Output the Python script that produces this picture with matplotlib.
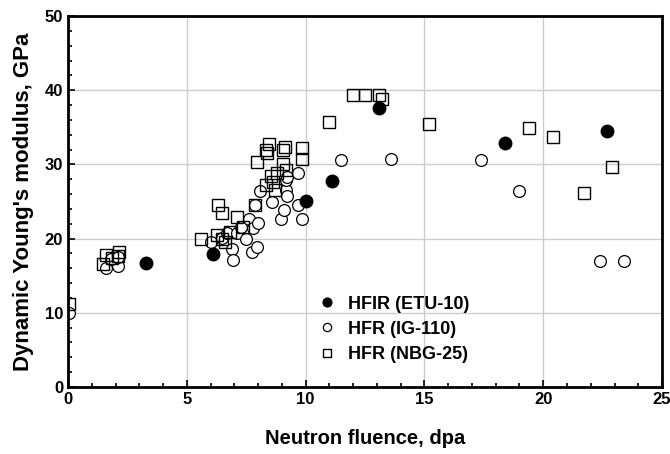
import matplotlib.pyplot as plt
from matplotlib.ticker import MultipleLocator

plt.rcParams['font.family'] = ['Liberation Sans', 'DejaVu Sans']
plt.rcParams['font.weight'] = 'bold'

# HFIR (ETU-10)
etu_x = [3.3, 6.1, 10.0, 11.1, 13.1, 18.4, 22.7]
etu_y = [16.7, 17.9, 25.0, 27.8, 37.6, 32.9, 34.5]

# HFR (IG-110)
ig_x = [0.05, 1.6, 2.1, 1.8, 2.1,
        6.0, 6.47, 6.68, 6.9, 6.93, 7.1, 7.3, 7.48, 7.6, 7.73, 7.77, 7.94, 7.98, 7.86,
        8.1, 8.6, 8.95, 9.08, 9.66, 9.83, 9.16, 9.2, 9.16, 9.2, 9.7,
        11.5, 13.6, 17.4, 19.0, 22.4, 23.4]
ig_y = [10.0, 16.0, 16.3, 17.2, 17.5,
        19.5, 20.1, 20.7, 18.6, 17.1, 20.7, 21.5, 19.9, 22.6, 18.2, 21.4, 18.8, 22.1, 24.5,
        26.4, 24.9, 22.6, 23.9, 24.5, 22.7, 26.5, 25.8, 27.9, 28.3, 28.9,
        30.6, 30.7, 30.6, 26.4, 17.0, 17.0]

# HFR (NBG-25)
nbg_x = [0.05, 1.47, 1.6, 1.85, 2.15, 2.1,
         5.6, 6.26, 6.6, 6.5, 6.8, 7.1, 6.3, 6.47, 7.35, 7.86,
         7.94, 8.36, 8.45, 8.32, 9.12, 9.03, 9.83, 9.83, 9.03, 9.16, 8.78, 8.53, 8.61, 8.32, 8.7,
         11.0, 12.0, 12.5, 13.1, 13.2, 15.2, 19.4, 20.4, 21.7, 22.9]
nbg_y = [11.2, 16.6, 17.8, 17.4, 18.2, 17.6,
         19.9, 20.5, 19.5, 19.9, 20.9, 22.9, 24.5, 23.4, 21.5, 24.5,
         30.3, 31.6, 32.8, 32.0, 32.4, 31.9, 32.2, 30.7, 30.1, 29.3, 28.9, 28.5, 27.6, 27.2, 26.5,
         35.7, 39.4, 39.3, 39.3, 38.8, 35.5, 34.9, 33.7, 26.1, 29.6]

fig = plt.figure(figsize=(6.7, 4.54), dpi=100)
ax = fig.add_axes([0.1015, 0.1476, 0.8866, 0.8172])

ax.plot(etu_x, etu_y, 'o', color='black', ms=9, label='HFIR (ETU-10)', zorder=3)
ax.plot(ig_x, ig_y, 'o', mfc='white', mec='black', mew=0.9, ms=8.5, label='HFR (IG-110)', zorder=2)
ax.plot(nbg_x, nbg_y, 's', mfc='none', mec='black', mew=1.0, ms=9, label='HFR (NBG-25)', zorder=2)

ax.set_xlim(0, 25)
ax.set_ylim(0, 50)
ax.xaxis.set_major_locator(MultipleLocator(5))
ax.xaxis.set_minor_locator(MultipleLocator(1))
ax.yaxis.set_major_locator(MultipleLocator(10))
ax.yaxis.set_minor_locator(MultipleLocator(2))
ax.tick_params(which='both', direction='in', top=False, right=False, width=1.2)
ax.tick_params(which='major', length=5, labelsize=12)
ax.tick_params(which='minor', length=3)
ax.grid(True, which='major', color='#cccccc', lw=1)
ax.set_axisbelow(True)
for s in ax.spines.values():
    s.set_linewidth(2)

ax.set_xlabel('Neutron fluence, dpa', fontsize=14.5, fontweight='bold', labelpad=16)
ax.set_ylabel("Dynamic Young's modulus, GPa", fontsize=16, fontweight='bold', labelpad=8)

ax.legend(loc='upper left', bbox_to_anchor=(0.39, 0.29), frameon=False, markerscale=0.7,
          prop={'size': 13, 'weight': 'bold'}, handletextpad=0.6, labelspacing=0.45,
          handlelength=1.2)

plt.savefig('out.png', dpi=100)
